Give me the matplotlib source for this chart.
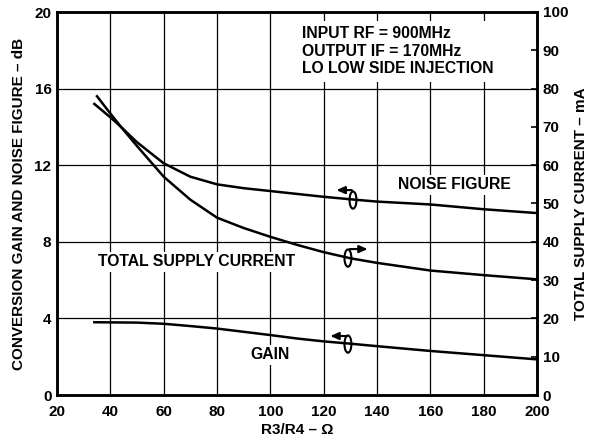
import matplotlib
matplotlib.use("Agg")
import matplotlib.pyplot as plt
from matplotlib.patches import Ellipse

plt.rcParams['font.family'] = ['Liberation Sans', 'DejaVu Sans']
plt.rcParams['font.weight'] = 'bold'
plt.rcParams['font.size'] = 11

# R3/R4 in ohms
r_nf = [34, 40, 44, 50, 60, 70, 80, 90, 100, 110, 120, 130, 140, 160, 180, 200]
noise_figure = [15.2, 14.5, 14.0, 13.2, 12.1, 11.4, 11.0, 10.8, 10.65, 10.5, 10.35, 10.22, 10.1, 9.95, 9.7, 9.5]

r_cur = [35, 40, 44, 50, 60, 70, 80, 90, 100, 110, 120, 130, 140, 160, 180, 200]
supply_current = [78, 73.5, 70, 65, 57, 51, 46.3, 43.6, 41.3, 39.2, 37.3, 35.7, 34.5, 32.5, 31.3, 30.2]

r_gain = [34, 50, 60, 70, 80, 90, 100, 110, 120, 130, 140, 160, 180, 200]
gain = [3.8, 3.78, 3.72, 3.6, 3.47, 3.3, 3.13, 2.95, 2.8, 2.68, 2.55, 2.3, 2.08, 1.86]

x_ticks = [20, 40, 60, 80, 100, 120, 140, 160, 180, 200]
left_ticks = [0, 4, 8, 12, 16, 20]
right_ticks = [0, 10, 20, 30, 40, 50, 60, 70, 80, 90, 100]

fig = plt.figure(figsize=(5.91, 4.40), dpi=100)
ax = fig.add_axes([57/591, 45/440, 480/591, 383/440])
ax2 = ax.twinx()

ax.set_xlim(20, 200)
ax.set_ylim(0, 20)
ax2.set_ylim(0, 100)
ax.set_xticks(x_ticks)
ax.set_yticks(left_ticks)
ax2.set_yticks(right_ticks)

ax.grid(True, color='black', lw=0.9, zorder=0)
ax.set_axisbelow(True)
for a in (ax, ax2):
    for s in a.spines.values():
        s.set_linewidth(1.8)

ax.tick_params(axis='both', length=0, pad=4, labelsize=11)
ax.tick_params(axis='x', pad=7)
ax2.tick_params(axis='y', direction='in', length=4, width=1.2, pad=4, labelsize=11)

lw = 1.8
ax.plot(r_nf, noise_figure, color='black', lw=lw, zorder=3)
ax.plot(r_gain, gain, color='black', lw=lw, zorder=3)
ax2.plot(r_cur, supply_current, color='black', lw=lw, zorder=3)

ax.set_xlabel('R3/R4 – Ω', fontweight='bold', fontsize=11, labelpad=3)
ax.set_ylabel('CONVERSION GAIN AND NOISE FIGURE – dB', fontweight='bold', fontsize=11, labelpad=6)
ax2.set_ylabel('TOTAL SUPPLY CURRENT – mA', fontweight='bold', fontsize=11, labelpad=4)

box = dict(facecolor='white', edgecolor='none', pad=2)
ax.text(112, 19.25, 'INPUT RF = 900MHz\nOUTPUT IF = 170MHz\nLO LOW SIDE INJECTION',
        ha='left', va='top', fontsize=11.3, fontweight='bold', linespacing=1.2,
        bbox=dict(facecolor='white', edgecolor='none', pad=4), zorder=2)
ax.text(169, 10.97, 'NOISE FIGURE', ha='center', va='center', fontsize=11.3,
        fontweight='bold', bbox=box, zorder=2)
ax.text(72.5, 6.95, 'TOTAL SUPPLY CURRENT', ha='center', va='center', fontsize=11.3,
        fontweight='bold', bbox=box, zorder=2)
ax.text(100, 2.09, 'GAIN', ha='center', va='center', fontsize=11.3,
        fontweight='bold', bbox=box, zorder=2)

# curve markers with arrows pointing to their axis
for cx, cy, x0, x1, ay in [(131, 10.18, 130.6, 124.8, 10.7),
                           (129.1, 7.15, 129.8, 136.5, 7.62),
                           (129.1, 2.66, 128.7, 122.5, 3.08)]:
    ax.add_patch(Ellipse((cx, cy), 2.6, 0.9, fill=False, edgecolor='black', lw=1.5, zorder=4))
    ax.annotate('', xy=(x1, ay), xytext=(x0, ay),
                arrowprops=dict(arrowstyle='-|>,head_length=0.45,head_width=0.2',
                                color='black', lw=1.5, shrinkA=0, shrinkB=0), zorder=4)

fig.savefig('out.png', dpi=100)
